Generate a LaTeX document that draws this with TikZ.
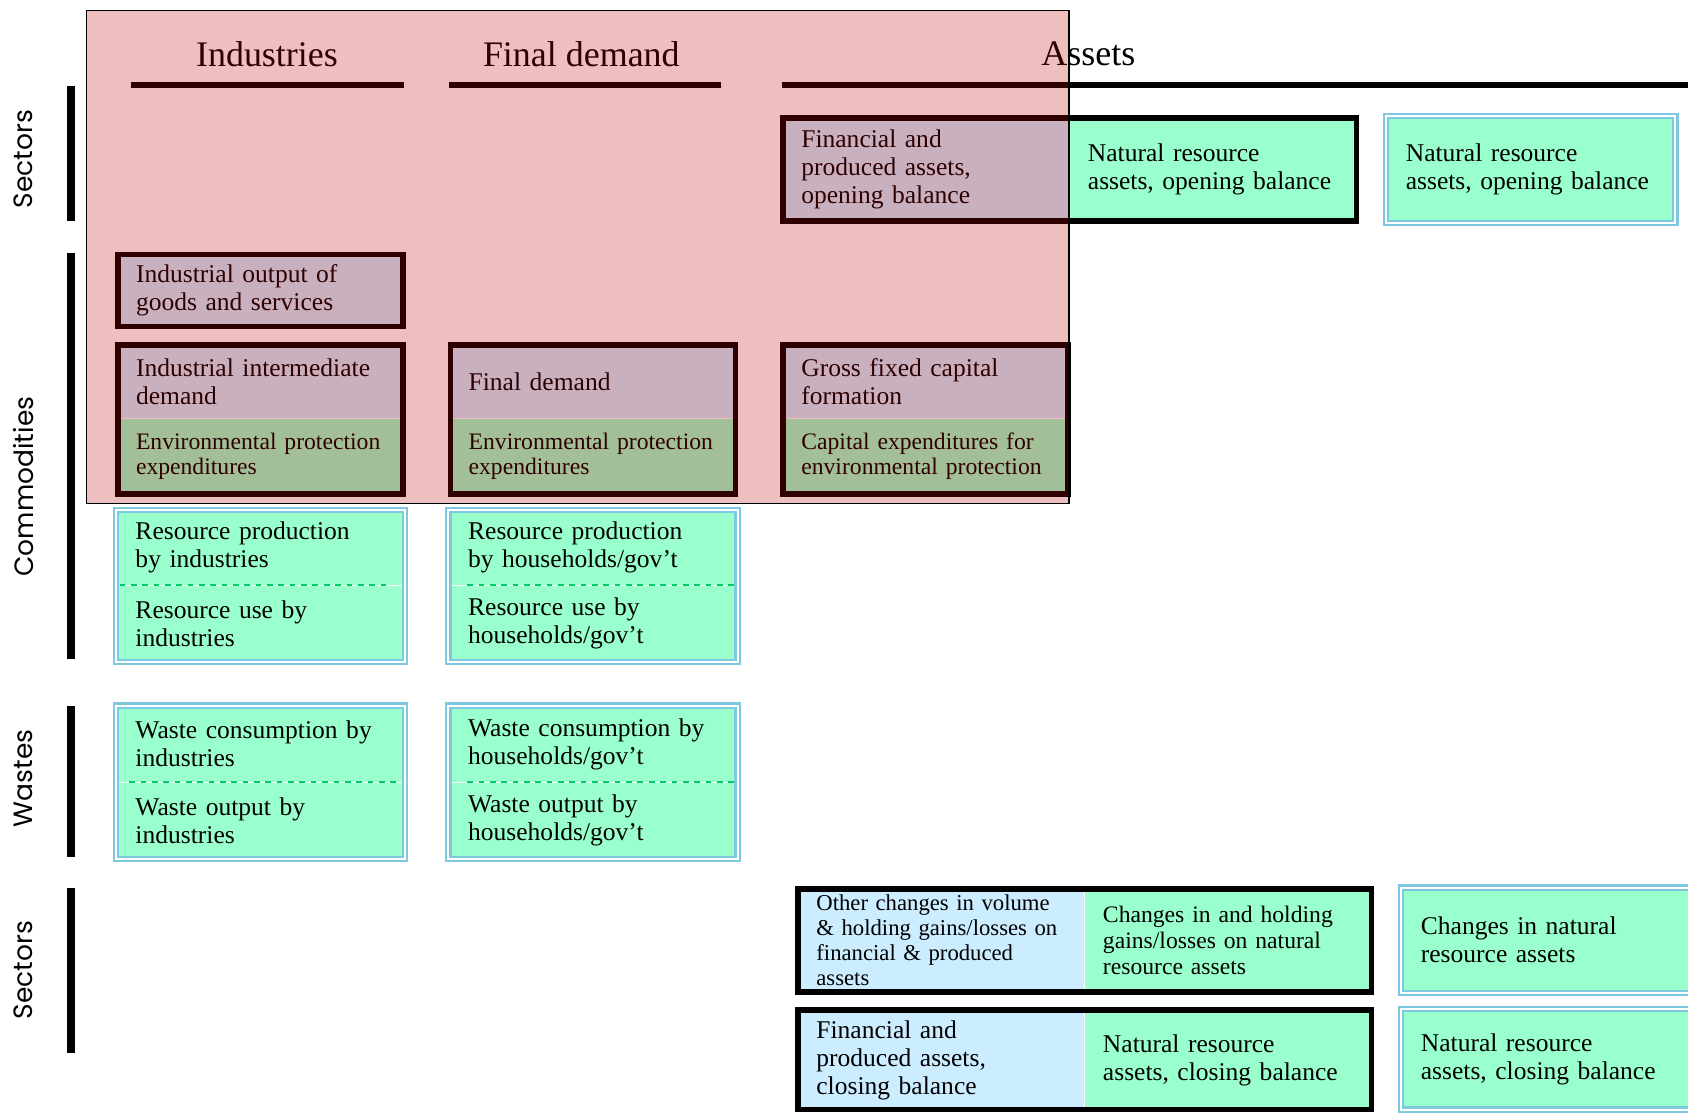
\documentclass[tikz,border=0pt]{standalone}
\usepackage{fontspec}
\setmainfont{Liberation Serif}
\newfontfamily\labelfont{Poppins}
\usepackage{tikz}
\usetikzlibrary{positioning}
\definecolor{skyfill}{HTML}{CCECFF}
\definecolor{mint}{HTML}{99FFCC}
\definecolor{rimblue}{HTML}{7FC9E0}
\definecolor{dashgreen}{HTML}{00CC66}
\definecolor{veilred}{RGB}{190,0,0}
\tikzset{
    cell/.style = {anchor=north west, inner xsep=0.33cm, inner ysep=0pt, align=left, font=\fontsize{13.5}{14.8}\selectfont},
    small-cell/.style = {cell, font=\fontsize{12.5}{13.6}\selectfont},
    rim-cell/.style = {cell, inner xsep=0.36cm, fill=mint},
    heavy-frame/.style = {draw=black, line width=3pt},
    rim-frame/.style = {draw=rimblue, line width=1.2pt, double=white, double distance=1pt},
    split-line/.style = {draw=dashgreen, line width=1pt, dash pattern=on 3pt off 3pt},
    side-bar/.style = {line width=4pt},
    head-bar/.style = {line width=3.4pt},
    side-label/.style = {rotate=90, font=\labelfont\fontsize{14}{16}\selectfont},
    head-label/.style = {font=\fontsize{19}{22}\selectfont},
}

\begin{document}
\begin{tikzpicture}
\fill[white] (0,0) rectangle (31.36,-20.68);
\useasboundingbox (0,0) rectangle (31.36,-20.68);

% column headings
\node[head-label] (hind) at (4.96,-1.0) {Industries};
\node[head-label] (hfin) at (10.8,-1.0) {Final demand};
\node[head-label] (hass) at (20.22,-1.0) {Assets};
\draw[head-bar] (2.44,-1.58) -- (7.5,-1.58);
\draw[head-bar] (8.34,-1.58) -- (13.4,-1.58);
\draw[head-bar] (14.52,-1.58) -- (31.36,-1.58);

% row headings
\node[side-label] (rsec) at (0.44,-2.96) {Sectors};
\node[side-label] (rcom) at (0.44,-9.04) {Commodities};
\node[side-label] (rwas) at (0.44,-14.46) {Wastes};
\node[side-label] (rsec2) at (0.44,-18.02) {Sectors};
\draw[side-bar] (1.32,-1.6) -- (1.32,-4.1);
\draw[side-bar] (1.32,-4.7) -- (1.32,-12.24);
\draw[side-bar] (1.32,-13.12) -- (1.32,-15.92);
\draw[side-bar] (1.32,-16.5) -- (1.32,-19.56);

% opening balances
\node[cell, fill=skyfill, text width=4.65cm, minimum height=1.9cm] (openfin) at (14.55,-2.19) {Financial and\\produced assets,\\opening balance};
\node[cell, fill=mint, text width=4.65cm, minimum height=1.9cm] (opennat) at (openfin.north east) {Natural resource\\assets, opening balance};
\draw[heavy-frame] (openfin.north west) rectangle (opennat.south east);
\node[rim-cell, text width=4.64cm, minimum height=1.98cm] (opennatx) at (25.75,-2.15) {Natural resource\\assets, opening balance};
\draw[rim-frame] (opennatx.north west) rectangle (opennatx.south east);

% supply and use of products
\node[cell, fill=skyfill, text width=4.62cm, minimum height=1.32cm] (io) at (2.19,-4.73) {Industrial output of\\goods and services};
\draw[heavy-frame] (io.north west) rectangle (io.south east);

\node[cell, fill=skyfill, text width=4.62cm, minimum height=1.35cm] (iidtop) at (2.19,-6.41) {Industrial intermediate\\demand};
\node[small-cell, fill=mint, text width=4.62cm, minimum height=1.39cm] (iidbot) at (iidtop.south west) {Environmental protection\\expenditures};
\draw[heavy-frame] (iidtop.north west) rectangle (iidbot.south east);

\node[cell, fill=skyfill, text width=4.62cm, minimum height=1.35cm] (fdtop) at (8.37,-6.41) {Final demand};
\node[small-cell, fill=mint, text width=4.62cm, minimum height=1.39cm] (fdbot) at (fdtop.south west) {Environmental protection\\expenditures};
\draw[heavy-frame] (fdtop.north west) rectangle (fdbot.south east);

\node[cell, fill=skyfill, text width=4.62cm, minimum height=1.35cm] (gfcftop) at (14.55,-6.41) {Gross fixed capital\\formation};
\node[small-cell, fill=mint, text width=4.62cm, minimum height=1.39cm] (gfcfbot) at (gfcftop.south west) {Capital expenditures for\\environmental protection};
\draw[heavy-frame] (gfcftop.north west) rectangle (gfcfbot.south east);

% natural resources
\node[rim-cell, text width=4.64cm, minimum height=1.39cm] (rpitop) at (2.15,-9.47) {Resource production\\by industries};
\node[rim-cell, text width=4.64cm, minimum height=1.41cm] (rpibot) at (rpitop.south west) {Resource use by\\industries};
\draw[split-line] ([xshift=2pt]rpitop.south west) -- ([xshift=-0.3cm]rpitop.south east);
\draw[rim-frame] (rpitop.north west) rectangle (rpibot.south east);

\node[rim-cell, text width=4.64cm, minimum height=1.39cm] (rphtop) at (8.33,-9.47) {Resource production\\by households/gov’t};
\node[rim-cell, text width=4.64cm, minimum height=1.41cm] (rphbot) at (rphtop.south west) {Resource use by\\households/gov’t};
\draw[split-line] ([xshift=0.35cm]rphtop.south west) -- (rphtop.south east);
\draw[rim-frame] (rphtop.north west) rectangle (rphbot.south east);

% wastes
\node[rim-cell, text width=4.64cm, minimum height=1.41cm] (wcitop) at (2.15,-13.11) {Waste consumption by\\industries};
\node[rim-cell, text width=4.64cm, minimum height=1.41cm] (wcibot) at (wcitop.south west) {Waste output by\\industries};
\draw[split-line] ([xshift=0.25cm]wcitop.south west) -- (wcitop.south east);
\draw[rim-frame] (wcitop.north west) rectangle (wcibot.south east);

\node[rim-cell, text width=4.64cm, minimum height=1.41cm] (wchtop) at (8.33,-13.11) {Waste consumption by\\households/gov’t};
\node[rim-cell, text width=4.64cm, minimum height=1.41cm] (wchbot) at (wchtop.south west) {Waste output by\\households/gov’t};
\draw[split-line] ([xshift=0.35cm]wchtop.south west) -- (wchtop.south east);
\draw[rim-frame] (wchtop.north west) rectangle (wchbot.south east);

% changes and closing balances
\node[small-cell, font=\fontsize{12}{13.2}\selectfont, fill=skyfill, text width=4.65cm, minimum height=1.9cm] (chgfin) at (14.83,-16.51) {Other changes in volume\\\& holding gains/losses on\\financial \& produced\\assets};
\node[small-cell, fill=mint, text width=4.65cm, minimum height=1.9cm] (chgnat) at (chgfin.north east) {Changes in and holding\\gains/losses on natural\\resource assets};
\draw[heavy-frame] (chgfin.north west) rectangle (chgnat.south east);
\node[rim-cell, text width=4.8cm, minimum height=1.94cm] (chgnatx) at (26.03,-16.49) {Changes in natural\\resource assets};
\draw[rim-frame] (chgnatx.north west) rectangle (chgnatx.south east);

\node[cell, fill=skyfill, text width=4.65cm, minimum height=1.83cm] (closefin) at (14.83,-18.77) {Financial and\\produced assets,\\closing balance};
\node[cell, fill=mint, text width=4.65cm, minimum height=1.83cm] (closenat) at (closefin.north east) {Natural resource\\assets, closing balance};
\draw[heavy-frame] (closefin.north west) rectangle (closenat.south east);
\node[rim-cell, text width=4.8cm, minimum height=1.85cm] (closenatx) at (26.03,-18.75) {Natural resource\\assets, closing balance};
\draw[rim-frame] (closenatx.north west) rectangle (closenatx.south east);

% tinted economic block
\draw[black, line width=0.6pt, fill=veilred, fill opacity=0.25] (1.6,-0.2) rectangle (19.86,-9.36);
\end{tikzpicture}
\end{document}
